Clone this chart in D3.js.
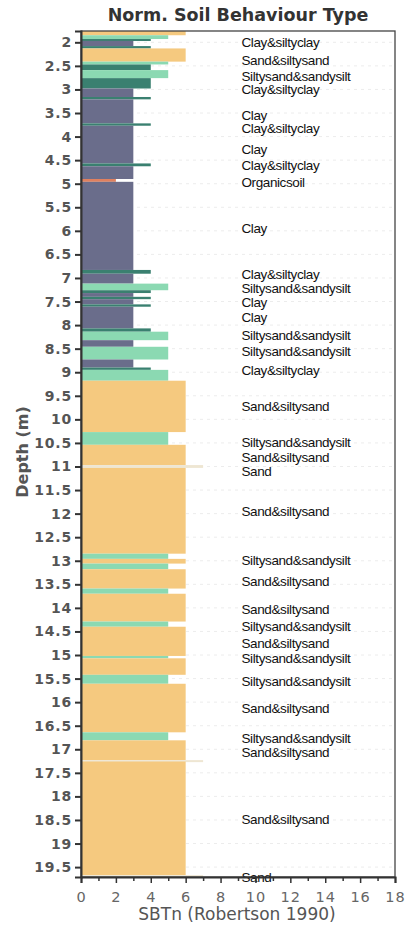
<!DOCTYPE html>
<html>
<head>
<meta charset="utf-8">
<script src="https://cdn.jsdelivr.net/npm/d3@7"></script>
<style>
   body { margin: 0; background: white; }
   text { font-family: "DejaVu Sans", Verdana, sans-serif; }
</style>
</head>
<body>
<div id="chart"></div>
<script>
// soil layers from the CPT log: [top depth, bottom depth, SBTn zone]
var layers = [
   [1.76, 1.85, 6], [1.85, 1.93, 5], [1.93, 1.97, 4], [1.97, 2.08, 3],
   [2.08, 2.13, 4], [2.13, 2.41, 6], [2.41, 2.47, 5], [2.47, 2.59, 4],
   [2.59, 2.76, 5], [2.76, 2.98, 4], [2.98, 3.16, 3], [3.16, 3.21, 4],
   [3.21, 3.72, 3], [3.72, 3.77, 4], [3.77, 4.57, 3], [4.57, 4.63, 4],
   [4.63, 4.90, 3], [4.90, 4.96, 2], [4.96, 6.83, 3], [6.83, 6.91, 4],
   [6.91, 7.12, 3], [7.12, 7.26, 5], [7.26, 7.32, 4], [7.32, 7.40, 3],
   [7.40, 7.45, 4], [7.45, 7.56, 3], [7.56, 7.61, 4], [7.61, 8.07, 3],
   [8.07, 8.14, 4], [8.14, 8.32, 5], [8.32, 8.46, 3], [8.46, 8.73, 5],
   [8.73, 8.90, 3], [8.90, 8.95, 4], [8.95, 9.18, 5], [9.18, 10.27, 6],
   [10.27, 10.54, 5], [10.54, 10.97, 6], [10.97, 11.03, 7], [11.03, 12.85, 6],
   [12.85, 12.96, 5], [12.96, 13.06, 6], [13.06, 13.18, 5], [13.18, 13.59, 6],
   [13.59, 13.70, 5], [13.70, 14.29, 6], [14.29, 14.40, 5], [14.40, 15.02, 6],
   [15.02, 15.07, 5], [15.07, 15.42, 6], [15.42, 15.61, 5], [15.61, 16.64, 6],
   [16.64, 16.81, 5], [16.81, 17.23, 6], [17.23, 17.26, 7], [17.26, 19.67, 6],
   [19.67, 19.71, 7]
]

// text labels on the right: depth and soil description
var labelDepths = [2.0, 2.38, 2.72, 3.0, 3.54, 3.83, 4.26, 4.6, 4.97, 5.95,
   6.93, 7.22, 7.52, 7.84, 8.22, 8.55, 8.96, 9.73, 10.49, 10.8, 11.1, 11.95,
   12.99, 13.43, 14.02, 14.4, 14.75, 15.06, 15.55, 16.13, 16.76, 17.07, 18.48, 19.71]
var labelTexts = ["Clay & silty clay", "Sand & silty sand", "Silty sand & sandy silt",
   "Clay & silty clay", "Clay", "Clay & silty clay", "Clay", "Clay & silty clay",
   "Organic soil", "Clay", "Clay & silty clay", "Silty sand & sandy silt", "Clay",
   "Clay", "Silty sand & sandy silt", "Silty sand & sandy silt", "Clay & silty clay",
   "Sand & silty sand", "Silty sand & sandy silt", "Sand & silty sand", "Sand",
   "Sand & silty sand", "Silty sand & sandy silt", "Sand & silty sand",
   "Sand & silty sand", "Silty sand & sandy silt", "Sand & silty sand",
   "Silty sand & sandy silt", "Silty sand & sandy silt", "Sand & silty sand",
   "Silty sand & sandy silt", "Sand & silty sand", "Sand & silty sand", "Sand"]

// axis ticks
var depthTicks = d3.range(2, 19.51, 0.5)
var sbtTicks   = d3.range(0, 19, 1)

var svgWidth  = 406
var svgHeight = 930

// colour per zone
var zoneColor = d3.scaleOrdinal()
.domain([2, 3, 4, 5, 6, 7])
.range(["#e0805f", "#6a6d8b", "#3a8070", "#8bd9b2", "#f5c97f", "#eee6d2"])

var x = d3.scaleLinear()
.domain([0, 18])
.range([81, 395])

var y = d3.scaleLinear()
.domain([1.76, 19.71])
.range([31, 877])

var svg = d3.select("#chart")
.append("svg")
.attr("width", svgWidth)
.attr("height", svgHeight)

// faint grid
svg.selectAll(".grid")
.data(depthTicks)
.enter()
.append("line")
.attr("x1", x(0))
.attr("x2", x(18))
.attr("y1", function(d){ return y(d) })
.attr("y2", function(d){ return y(d) })
.attr("stroke", "#ececec")
.attr("stroke-dasharray", "3,4")

// layer bars, width = SBTn zone
svg.selectAll(".layer")
.data(layers)
.enter()
.append("rect")
.attr("x", x(0))
.attr("y", function(d){ return y(d[0]) })
.attr("width", function(d){ return x(d[2]) - x(0) })
.attr("height", function(d){ return Math.max(2, y(d[1]) - y(d[0])) })
.attr("fill", function(d){ return zoneColor(d[2]) })

// frame
svg.append("rect")
.attr("x", x(0))
.attr("y", y(1.76))
.attr("width", x(18) - x(0))
.attr("height", y(19.71) - y(1.76))
.attr("fill", "none")
.attr("stroke", "#444")
.attr("stroke-width", 1.3)

// soil labels
svg.selectAll(".soil")
.data(labelDepths)
.enter()
.append("text")
.attr("x", x(9.2))
.attr("y", function(d){ return y(d) })
.attr("dy", "0.35em")
.style("font-family", "'Liberation Sans', Arial, sans-serif")
.style("font-size", "13.5px")
.style("letter-spacing", "-0.4px")
.style("word-spacing", "-3.3px")
.attr("fill", "#111")
.text(function(d, i){ return labelTexts[i] })

// depth axis
var yAxis = svg.append("g")
.attr("transform", "translate(" + x(0) + ",0)")
.call(d3.axisLeft(y).tickValues(depthTicks).tickSize(6).tickFormat(d3.format("")))
yAxis.select(".domain").attr("stroke", "#333").attr("stroke-width", 2)
yAxis.selectAll(".tick line").attr("stroke", "#333").attr("stroke-width", 2)
yAxis.selectAll(".tick text")
.attr("fill", "#555")
.style("font-size", "14px")
.style("font-weight", "bold")
.style("letter-spacing", "0.8px")
.style("font-family", "'DejaVu Sans', sans-serif")

// SBTn axis
var xAxis = svg.append("g")
.attr("transform", "translate(0," + y(19.71) + ")")
.call(d3.axisBottom(x).tickValues(sbtTicks).tickSize(6).tickPadding(9)
   .tickFormat(function(d){ return d % 2 === 0 ? d : "" }))
xAxis.select(".domain").attr("stroke", "#333").attr("stroke-width", 2)
xAxis.selectAll(".tick line")
.attr("stroke", "#333")
.attr("stroke-width", 1.5)
.attr("y2", function(d){ return d % 2 === 0 ? 6 : 4 })
xAxis.selectAll(".tick text")
.attr("fill", "#666")
.style("font-size", "14.5px")
.style("letter-spacing", "1px")
.style("font-family", "'DejaVu Sans', sans-serif")

// titles
svg.append("text")
.attr("x", 238)
.attr("y", 21)
.attr("text-anchor", "middle")
.style("font-size", "17.5px")
.style("font-weight", "bold")
.attr("fill", "#333")
.text("Norm. Soil Behaviour Type")

svg.append("text")
.attr("x", 237)
.attr("y", 920)
.attr("text-anchor", "middle")
.style("font-size", "17px")
.attr("fill", "#555")
.text("SBTn (Robertson 1990)")

svg.append("text")
.attr("transform", "translate(28,452) rotate(-90)")
.attr("text-anchor", "middle")
.style("font-size", "16px")
.style("font-weight", "bold")
.attr("fill", "#555")
.text("Depth (m)")
</script>
</body>
</html>
